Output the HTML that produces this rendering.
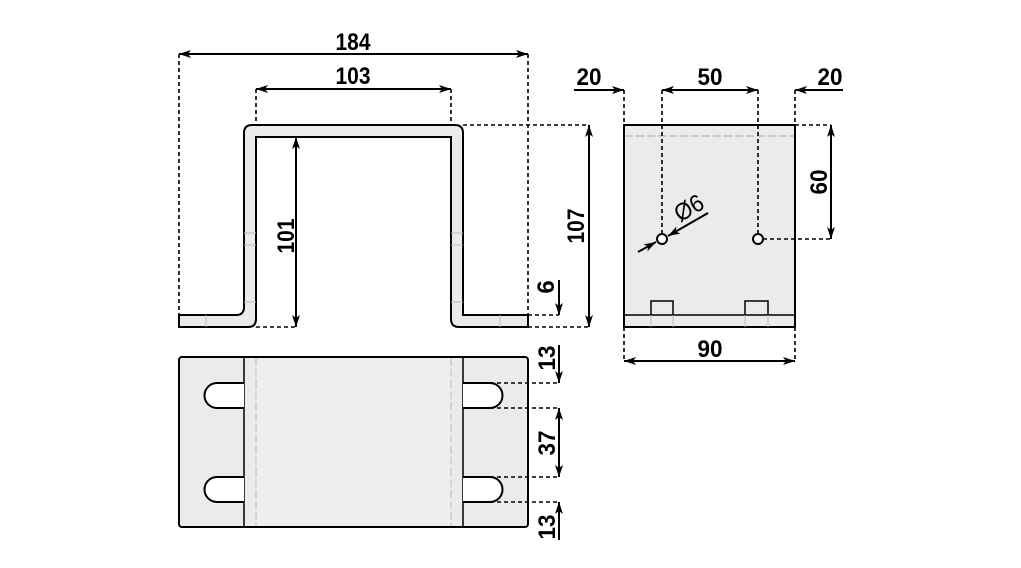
<!DOCTYPE html>
<html><head><style>html,body{margin:0;padding:0;background:#fff}svg{display:block}text{font-family:"Liberation Sans",Arial,sans-serif;font-weight:bold;font-size:24px;fill:#000}</style></head>
<body>
<svg width="1021" height="568" viewBox="0 0 1021 568" xmlns="http://www.w3.org/2000/svg">
<defs>
<marker id="a" viewBox="0 0 12 8" refX="12" refY="4" markerWidth="12" markerHeight="8" markerUnits="userSpaceOnUse" orient="auto-start-reverse"><path d="M0,0 L12,4 L0,8 L3,4 Z" fill="#000"/></marker>
</defs>
<!-- front view -->
<path d="M179,315 H236 Q244,315 244,307 V133 Q244,125 252,125 H455 Q463,125 463,133 V315 H528 V327 H459 Q451,327 451,319 V137 H256 V319 Q256,327 248,327 H179 Z" fill="#ebebeb" stroke="#000" stroke-width="2"/>
<g stroke="#bbb" stroke-width="1"><line x1="206" y1="315" x2="206" y2="327"/><line x1="500" y1="315" x2="500" y2="327"/><line x1="244" y1="233" x2="256" y2="233"/><line x1="244" y1="245" x2="256" y2="245"/><line x1="451" y1="233" x2="463" y2="233"/><line x1="451" y1="245" x2="463" y2="245"/><line x1="244" y1="302" x2="256" y2="302"/><line x1="451" y1="302" x2="463" y2="302"/></g>
<!-- top view -->
<rect x="179" y="357" width="349" height="170" rx="3" fill="#ebebeb" stroke="#000" stroke-width="2"/>
<rect x="256" y="358" width="195" height="168" fill="#eeeeee"/>
<g stroke="#000" stroke-width="1.5"><line x1="244" y1="357" x2="244" y2="527"/><line x1="463" y1="357" x2="463" y2="527"/></g>
<g stroke="#bbb" stroke-width="1" stroke-dasharray="8,3"><line x1="256" y1="358" x2="256" y2="526"/><line x1="451" y1="358" x2="451" y2="526"/></g>
<g fill="#fff" stroke="#000" stroke-width="2">
<path d="M244,383 H217 A12.5,12.5 0 0 0 217,408 H244"/><path d="M244,477 H217 A12.5,12.5 0 0 0 217,502 H244"/>
<path d="M463,383 H490 A12.5,12.5 0 0 1 490,408 H463"/><path d="M463,477 H490 A12.5,12.5 0 0 1 490,502 H463"/>
</g>
<!-- side view -->
<rect x="624" y="125" width="171" height="202" fill="#ebebeb" stroke="#000" stroke-width="2"/>
<line x1="625" y1="136" x2="794" y2="136" stroke="#aaa" stroke-width="1" stroke-dasharray="8,3"/>
<line x1="624" y1="315" x2="795" y2="315" stroke="#000" stroke-width="1.5"/>
<g fill="none" stroke="#000" stroke-width="1.5"><path d="M651,315 V301 H673 V315"/><path d="M745,315 V301 H768 V315"/></g>
<g stroke="#bbb"><line x1="651" y1="315" x2="651" y2="327"/><line x1="673" y1="315" x2="673" y2="327"/><line x1="745" y1="315" x2="745" y2="327"/><line x1="768" y1="315" x2="768" y2="327"/></g>
<g fill="none" stroke="#000" stroke-width="1.6" stroke-dasharray="4,3">
<line x1="179" y1="54" x2="179" y2="315"/><line x1="528" y1="54" x2="528" y2="327"/>
<line x1="256" y1="89" x2="256" y2="125"/><line x1="451" y1="89" x2="451" y2="125"/>
<line x1="463" y1="125" x2="589" y2="125"/><line x1="256" y1="327" x2="296" y2="327"/>
<line x1="528" y1="327" x2="589" y2="327"/><line x1="528" y1="315" x2="559" y2="315"/>
<line x1="490" y1="383" x2="559" y2="383"/><line x1="490" y1="408" x2="559" y2="408"/>
<line x1="490" y1="477" x2="559" y2="477"/><line x1="490" y1="502" x2="559" y2="502"/>
<line x1="624" y1="90" x2="624" y2="125"/><line x1="795" y1="90" x2="795" y2="125"/>
<line x1="662" y1="90" x2="662" y2="234"/><line x1="758" y1="90" x2="758" y2="234"/>
<line x1="795" y1="125" x2="831" y2="125"/><line x1="763" y1="239" x2="831" y2="239"/>
<line x1="624" y1="327" x2="624" y2="361"/><line x1="795" y1="327" x2="795" y2="361"/>
</g>
<circle cx="662" cy="239" r="5" fill="#fff" stroke="#000" stroke-width="2"/>
<circle cx="758" cy="239" r="5" fill="#fff" stroke="#000" stroke-width="2"/>
<!-- dimension lines -->
<g stroke="#000" stroke-width="2" fill="none">
<line x1="179" y1="54" x2="528" y2="54" marker-start="url(#a)" marker-end="url(#a)"/>
<line x1="256" y1="89" x2="451" y2="89" marker-start="url(#a)" marker-end="url(#a)"/>
<line x1="296" y1="137" x2="296" y2="327" marker-start="url(#a)" marker-end="url(#a)"/>
<line x1="589" y1="125" x2="589" y2="327" marker-start="url(#a)" marker-end="url(#a)"/>
<line x1="559" y1="280" x2="559" y2="315" marker-end="url(#a)"/>
<line x1="559" y1="345" x2="559" y2="383" marker-end="url(#a)"/>
<line x1="559" y1="408" x2="559" y2="477" marker-start="url(#a)" marker-end="url(#a)"/>
<line x1="559" y1="540" x2="559" y2="502" marker-end="url(#a)"/>
<line x1="574" y1="90" x2="624" y2="90" marker-end="url(#a)"/>
<line x1="662" y1="90" x2="758" y2="90" marker-start="url(#a)" marker-end="url(#a)"/>
<line x1="843" y1="90" x2="795" y2="90" marker-end="url(#a)"/>
<line x1="831" y1="125" x2="831" y2="239" marker-start="url(#a)" marker-end="url(#a)"/>
<line x1="624" y1="361" x2="795" y2="361" marker-start="url(#a)" marker-end="url(#a)"/>
<line x1="638" y1="252" x2="656" y2="242" marker-end="url(#a)"/>
<line x1="708" y1="213" x2="668" y2="236" marker-end="url(#a)"/>
</g>
<g text-anchor="middle">
<text x="353" y="50" textLength="35" lengthAdjust="spacingAndGlyphs">184</text>
<text x="353" y="84" textLength="35" lengthAdjust="spacingAndGlyphs">103</text>
<text x="589" y="85" textLength="25" lengthAdjust="spacingAndGlyphs">20</text>
<text x="710" y="85" textLength="25" lengthAdjust="spacingAndGlyphs">50</text>
<text x="830" y="85" textLength="25" lengthAdjust="spacingAndGlyphs">20</text>
<text x="710" y="357" textLength="25" lengthAdjust="spacingAndGlyphs">90</text>
<text transform="translate(294,236) rotate(-90)" textLength="35" lengthAdjust="spacingAndGlyphs">101</text>
<text transform="translate(584,226) rotate(-90)" textLength="35" lengthAdjust="spacingAndGlyphs">107</text>
<text transform="translate(554,287) rotate(-90)">6</text>
<text transform="translate(827,182) rotate(-90)" textLength="25" lengthAdjust="spacingAndGlyphs">60</text>
<text transform="translate(555,358) rotate(-90)" textLength="25" lengthAdjust="spacingAndGlyphs">13</text>
<text transform="translate(555,443) rotate(-90)" textLength="25" lengthAdjust="spacingAndGlyphs">37</text>
<text transform="translate(555,527) rotate(-90)" textLength="25" lengthAdjust="spacingAndGlyphs">13</text>
<text transform="translate(693,215) rotate(-30)" style="font-weight:normal" textLength="30" lengthAdjust="spacingAndGlyphs">Ø6</text>
</g>
</svg>
</body></html>
